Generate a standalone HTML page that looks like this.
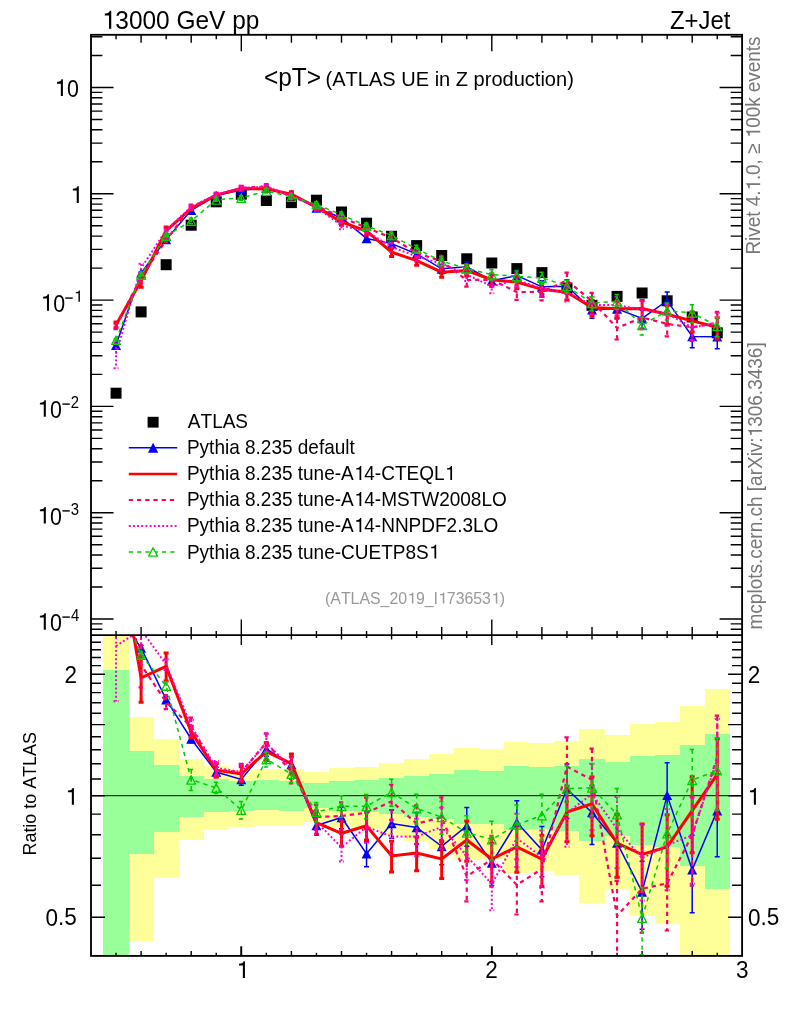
<!DOCTYPE html>
<html><head><meta charset="utf-8"><style>html,body{margin:0;padding:0;background:#fff;overflow:hidden}svg{display:block;will-change:transform}text{font-family:"Liberation Sans",sans-serif;font-kerning:none;font-feature-settings:"kern" 0}</style></head>
<body><svg width="786" height="1024" viewBox="0 0 786 1024" font-family="Liberation Sans, sans-serif">
<defs><clipPath id="cr"><rect x="91.0" y="635.05" width="651.1" height="320.85"/></clipPath>
<clipPath id="ct"><rect x="91.0" y="34.8" width="651.1" height="600.25"/></clipPath></defs>
<rect width="786" height="1024" fill="#fff"/>
<g clip-path="url(#cr)" shape-rendering="crispEdges"><rect x="103.00" y="600.00" width="25.58" height="400.00" fill="#ffff99"/><rect x="128.57" y="716.50" width="25.05" height="224.90" fill="#ffff99"/><rect x="153.62" y="739.20" width="25.05" height="138.80" fill="#ffff99"/><rect x="178.68" y="759.30" width="25.05" height="81.10" fill="#ffff99"/><rect x="203.73" y="766.20" width="25.05" height="63.80" fill="#ffff99"/><rect x="228.78" y="769.50" width="25.05" height="57.70" fill="#ffff99"/><rect x="253.83" y="768.80" width="25.05" height="57.10" fill="#ffff99"/><rect x="278.88" y="769.00" width="25.05" height="57.30" fill="#ffff99"/><rect x="303.93" y="772.10" width="25.05" height="50.30" fill="#ffff99"/><rect x="328.97" y="768.20" width="25.05" height="58.93" fill="#ffff99"/><rect x="354.02" y="766.70" width="25.05" height="62.57" fill="#ffff99"/><rect x="379.08" y="762.90" width="25.05" height="71.98" fill="#ffff99"/><rect x="404.12" y="758.80" width="25.05" height="82.50" fill="#ffff99"/><rect x="429.18" y="754.00" width="25.05" height="95.32" fill="#ffff99"/><rect x="454.22" y="748.00" width="25.05" height="112.24" fill="#ffff99"/><rect x="479.27" y="748.70" width="25.05" height="110.21" fill="#ffff99"/><rect x="504.33" y="741.70" width="25.05" height="131.25" fill="#ffff99"/><rect x="529.38" y="742.80" width="25.05" height="127.83" fill="#ffff99"/><rect x="554.42" y="741.10" width="25.05" height="133.50" fill="#ffff99"/><rect x="579.48" y="729.20" width="25.05" height="173.50" fill="#ffff99"/><rect x="604.53" y="734.60" width="25.05" height="154.10" fill="#ffff99"/><rect x="629.58" y="724.40" width="25.05" height="191.30" fill="#ffff99"/><rect x="654.63" y="722.30" width="25.05" height="201.40" fill="#ffff99"/><rect x="679.67" y="705.80" width="25.05" height="294.20" fill="#ffff99"/><rect x="704.73" y="688.80" width="25.05" height="311.20" fill="#ffff99"/><rect x="103.00" y="670.40" width="25.58" height="329.60" fill="#99ff99"/><rect x="128.57" y="751.10" width="25.05" height="103.10" fill="#99ff99"/><rect x="153.62" y="765.20" width="25.05" height="66.90" fill="#99ff99"/><rect x="178.68" y="776.00" width="25.05" height="41.00" fill="#99ff99"/><rect x="203.73" y="779.20" width="25.05" height="32.80" fill="#99ff99"/><rect x="228.78" y="781.40" width="25.05" height="29.10" fill="#99ff99"/><rect x="253.83" y="780.40" width="25.05" height="29.10" fill="#99ff99"/><rect x="278.88" y="781.40" width="25.05" height="29.10" fill="#99ff99"/><rect x="303.93" y="783.10" width="25.05" height="24.98" fill="#99ff99"/><rect x="328.97" y="780.60" width="25.05" height="30.42" fill="#99ff99"/><rect x="354.02" y="780.10" width="25.05" height="31.53" fill="#99ff99"/><rect x="379.08" y="777.80" width="25.05" height="36.64" fill="#99ff99"/><rect x="404.12" y="776.00" width="25.05" height="40.70" fill="#99ff99"/><rect x="429.18" y="774.00" width="25.05" height="45.27" fill="#99ff99"/><rect x="454.22" y="770.30" width="25.05" height="53.91" fill="#99ff99"/><rect x="479.27" y="770.70" width="25.05" height="52.97" fill="#99ff99"/><rect x="504.33" y="766.00" width="25.05" height="64.28" fill="#99ff99"/><rect x="529.38" y="767.00" width="25.05" height="61.84" fill="#99ff99"/><rect x="554.42" y="766.00" width="25.05" height="65.40" fill="#99ff99"/><rect x="579.48" y="759.00" width="25.05" height="82.10" fill="#99ff99"/><rect x="604.53" y="762.10" width="25.05" height="73.60" fill="#99ff99"/><rect x="629.58" y="756.20" width="25.05" height="89.20" fill="#99ff99"/><rect x="654.63" y="755.20" width="25.05" height="91.30" fill="#99ff99"/><rect x="679.67" y="745.00" width="25.05" height="121.00" fill="#99ff99"/><rect x="704.73" y="734.20" width="25.05" height="155.10" fill="#99ff99"/></g>
<line x1="91.00" y1="795.70" x2="742.10" y2="795.70" stroke="#000" stroke-width="1" />
<path d="M91.00 629.30L102.40 629.30M742.10 629.30L730.70 629.30M91.00 623.86L102.40 623.86M742.10 623.86L730.70 623.86M91.00 619.00L113.50 619.00M742.10 619.00L719.60 619.00M91.00 587.00L102.40 587.00M742.10 587.00L730.70 587.00M91.00 568.28L102.40 568.28M742.10 568.28L730.70 568.28M91.00 555.00L102.40 555.00M742.10 555.00L730.70 555.00M91.00 544.70L102.40 544.70M742.10 544.70L730.70 544.70M91.00 536.28L102.40 536.28M742.10 536.28L730.70 536.28M91.00 529.17L102.40 529.17M742.10 529.17L730.70 529.17M91.00 523.00L102.40 523.00M742.10 523.00L730.70 523.00M91.00 517.56L102.40 517.56M742.10 517.56L730.70 517.56M91.00 512.70L113.50 512.70M742.10 512.70L719.60 512.70M91.00 480.70L102.40 480.70M742.10 480.70L730.70 480.70M91.00 461.98L102.40 461.98M742.10 461.98L730.70 461.98M91.00 448.70L102.40 448.70M742.10 448.70L730.70 448.70M91.00 438.40L102.40 438.40M742.10 438.40L730.70 438.40M91.00 429.98L102.40 429.98M742.10 429.98L730.70 429.98M91.00 422.87L102.40 422.87M742.10 422.87L730.70 422.87M91.00 416.70L102.40 416.70M742.10 416.70L730.70 416.70M91.00 411.26L102.40 411.26M742.10 411.26L730.70 411.26M91.00 406.40L113.50 406.40M742.10 406.40L719.60 406.40M91.00 374.40L102.40 374.40M742.10 374.40L730.70 374.40M91.00 355.68L102.40 355.68M742.10 355.68L730.70 355.68M91.00 342.40L102.40 342.40M742.10 342.40L730.70 342.40M91.00 332.10L102.40 332.10M742.10 332.10L730.70 332.10M91.00 323.68L102.40 323.68M742.10 323.68L730.70 323.68M91.00 316.57L102.40 316.57M742.10 316.57L730.70 316.57M91.00 310.40L102.40 310.40M742.10 310.40L730.70 310.40M91.00 304.96L102.40 304.96M742.10 304.96L730.70 304.96M91.00 300.10L113.50 300.10M742.10 300.10L719.60 300.10M91.00 268.10L102.40 268.10M742.10 268.10L730.70 268.10M91.00 249.38L102.40 249.38M742.10 249.38L730.70 249.38M91.00 236.10L102.40 236.10M742.10 236.10L730.70 236.10M91.00 225.80L102.40 225.80M742.10 225.80L730.70 225.80M91.00 217.38L102.40 217.38M742.10 217.38L730.70 217.38M91.00 210.27L102.40 210.27M742.10 210.27L730.70 210.27M91.00 204.10L102.40 204.10M742.10 204.10L730.70 204.10M91.00 198.66L102.40 198.66M742.10 198.66L730.70 198.66M91.00 193.80L113.50 193.80M742.10 193.80L719.60 193.80M91.00 161.80L102.40 161.80M742.10 161.80L730.70 161.80M91.00 143.08L102.40 143.08M742.10 143.08L730.70 143.08M91.00 129.80L102.40 129.80M742.10 129.80L730.70 129.80M91.00 119.50L102.40 119.50M742.10 119.50L730.70 119.50M91.00 111.08L102.40 111.08M742.10 111.08L730.70 111.08M91.00 103.97L102.40 103.97M742.10 103.97L730.70 103.97M91.00 97.80L102.40 97.80M742.10 97.80L730.70 97.80M91.00 92.36L102.40 92.36M742.10 92.36L730.70 92.36M91.00 87.50L113.50 87.50M742.10 87.50L719.60 87.50M91.00 55.50L102.40 55.50M742.10 55.50L730.70 55.50M91.00 36.78L102.40 36.78M742.10 36.78L730.70 36.78M116.05 34.80L116.05 39.30M116.05 635.05L116.05 631.05M116.05 635.05L116.05 638.05M116.05 955.90L116.05 952.70M141.10 34.80L141.10 42.80M141.10 635.05L141.10 627.05M141.10 635.05L141.10 639.55M141.10 955.90L141.10 951.10M166.15 34.80L166.15 39.30M166.15 635.05L166.15 631.05M166.15 635.05L166.15 638.05M166.15 955.90L166.15 952.70M191.20 34.80L191.20 42.80M191.20 635.05L191.20 627.05M191.20 635.05L191.20 639.55M191.20 955.90L191.20 951.10M216.25 34.80L216.25 39.30M216.25 635.05L216.25 631.05M216.25 635.05L216.25 638.05M216.25 955.90L216.25 952.70M241.30 34.80L241.30 51.30M241.30 635.05L241.30 619.55M241.30 635.05L241.30 645.05M241.30 955.90L241.30 946.40M266.35 34.80L266.35 39.30M266.35 635.05L266.35 631.05M266.35 635.05L266.35 638.05M266.35 955.90L266.35 952.70M291.40 34.80L291.40 42.80M291.40 635.05L291.40 627.05M291.40 635.05L291.40 639.55M291.40 955.90L291.40 951.10M316.45 34.80L316.45 39.30M316.45 635.05L316.45 631.05M316.45 635.05L316.45 638.05M316.45 955.90L316.45 952.70M341.50 34.80L341.50 42.80M341.50 635.05L341.50 627.05M341.50 635.05L341.50 639.55M341.50 955.90L341.50 951.10M366.55 34.80L366.55 39.30M366.55 635.05L366.55 631.05M366.55 635.05L366.55 638.05M366.55 955.90L366.55 952.70M391.60 34.80L391.60 42.80M391.60 635.05L391.60 627.05M391.60 635.05L391.60 639.55M391.60 955.90L391.60 951.10M416.65 34.80L416.65 39.30M416.65 635.05L416.65 631.05M416.65 635.05L416.65 638.05M416.65 955.90L416.65 952.70M441.70 34.80L441.70 42.80M441.70 635.05L441.70 627.05M441.70 635.05L441.70 639.55M441.70 955.90L441.70 951.10M466.75 34.80L466.75 39.30M466.75 635.05L466.75 631.05M466.75 635.05L466.75 638.05M466.75 955.90L466.75 952.70M491.80 34.80L491.80 51.30M491.80 635.05L491.80 619.55M491.80 635.05L491.80 645.05M491.80 955.90L491.80 946.40M516.85 34.80L516.85 39.30M516.85 635.05L516.85 631.05M516.85 635.05L516.85 638.05M516.85 955.90L516.85 952.70M541.90 34.80L541.90 42.80M541.90 635.05L541.90 627.05M541.90 635.05L541.90 639.55M541.90 955.90L541.90 951.10M566.95 34.80L566.95 39.30M566.95 635.05L566.95 631.05M566.95 635.05L566.95 638.05M566.95 955.90L566.95 952.70M592.00 34.80L592.00 42.80M592.00 635.05L592.00 627.05M592.00 635.05L592.00 639.55M592.00 955.90L592.00 951.10M617.05 34.80L617.05 39.30M617.05 635.05L617.05 631.05M617.05 635.05L617.05 638.05M617.05 955.90L617.05 952.70M642.10 34.80L642.10 42.80M642.10 635.05L642.10 627.05M642.10 635.05L642.10 639.55M642.10 955.90L642.10 951.10M667.15 34.80L667.15 39.30M667.15 635.05L667.15 631.05M667.15 635.05L667.15 638.05M667.15 955.90L667.15 952.70M692.20 34.80L692.20 42.80M692.20 635.05L692.20 627.05M692.20 635.05L692.20 639.55M692.20 955.90L692.20 951.10M717.25 34.80L717.25 39.30M717.25 635.05L717.25 631.05M717.25 635.05L717.25 638.05M717.25 955.90L717.25 952.70M91.00 917.20L105.00 917.20M742.10 917.20L728.10 917.20M91.00 885.24L101.00 885.24M742.10 885.24L732.10 885.24M91.00 858.22L101.00 858.22M742.10 858.22L732.10 858.22M91.00 834.81L101.00 834.81M742.10 834.81L732.10 834.81M91.00 814.17L101.00 814.17M742.10 814.17L732.10 814.17M91.00 795.70L105.00 795.70M742.10 795.70L728.10 795.70M91.00 778.99L101.00 778.99M742.10 778.99L732.10 778.99M91.00 763.74L101.00 763.74M742.10 763.74L732.10 763.74M91.00 749.71L101.00 749.71M742.10 749.71L732.10 749.71M91.00 736.72L101.00 736.72M742.10 736.72L732.10 736.72M91.00 724.63L105.00 724.63M742.10 724.63L728.10 724.63M91.00 713.32L101.00 713.32M742.10 713.32L732.10 713.32M91.00 702.69L101.00 702.69M742.10 702.69L732.10 702.69M91.00 692.67L101.00 692.67M742.10 692.67L732.10 692.67M91.00 683.20L101.00 683.20M742.10 683.20L732.10 683.20M91.00 674.20L105.00 674.20M742.10 674.20L728.10 674.20M91.00 665.65L101.00 665.65M742.10 665.65L732.10 665.65M91.00 657.50L101.00 657.50M742.10 657.50L732.10 657.50M91.00 649.71L101.00 649.71M742.10 649.71L732.10 649.71M91.00 642.25L101.00 642.25M742.10 642.25L732.10 642.25" stroke="#000" stroke-width="1.4" fill="none"/>
<path d="M241.30 955.90L241.30 946.40M491.80 955.90L491.80 946.40" stroke="#000" stroke-width="1.8" fill="none"/>
<g clip-path="url(#ct)"><rect x="110.55" y="387.70" width="11" height="11" fill="#000"/><rect x="135.60" y="306.40" width="11" height="11" fill="#000"/><rect x="160.65" y="259.20" width="11" height="11" fill="#000"/><rect x="185.70" y="219.70" width="11" height="11" fill="#000"/><rect x="210.75" y="196.30" width="11" height="11" fill="#000"/><rect x="235.80" y="188.70" width="11" height="11" fill="#000"/><rect x="260.85" y="195.00" width="11" height="11" fill="#000"/><rect x="285.90" y="197.10" width="11" height="11" fill="#000"/><rect x="310.95" y="194.70" width="11" height="11" fill="#000"/><rect x="336.00" y="206.50" width="11" height="11" fill="#000"/><rect x="361.05" y="217.70" width="11" height="11" fill="#000"/><rect x="386.10" y="230.80" width="11" height="11" fill="#000"/><rect x="411.15" y="240.10" width="11" height="11" fill="#000"/><rect x="436.20" y="250.00" width="11" height="11" fill="#000"/><rect x="461.25" y="253.30" width="11" height="11" fill="#000"/><rect x="486.30" y="257.50" width="11" height="11" fill="#000"/><rect x="511.35" y="263.10" width="11" height="11" fill="#000"/><rect x="536.40" y="267.10" width="11" height="11" fill="#000"/><rect x="561.45" y="282.50" width="11" height="11" fill="#000"/><rect x="586.50" y="299.80" width="11" height="11" fill="#000"/><rect x="611.55" y="290.90" width="11" height="11" fill="#000"/><rect x="636.60" y="287.50" width="11" height="11" fill="#000"/><rect x="661.65" y="295.30" width="11" height="11" fill="#000"/><rect x="686.70" y="311.50" width="11" height="11" fill="#000"/><rect x="711.75" y="327.30" width="11" height="11" fill="#000"/><path d="M116.05 345.10L141.10 273.00L166.15 239.39L191.20 210.27L216.25 195.56L241.30 189.93L266.35 188.23L291.40 194.36L316.45 208.05L341.50 217.74L366.55 238.50L391.60 243.62L416.65 253.98L441.70 268.85L466.75 266.73L491.80 280.70L516.85 275.63L541.90 286.85L566.95 286.29L592.00 309.72L617.05 308.86L642.10 318.34L667.15 300.69L692.20 336.52L717.25 336.72" fill="none" stroke="#0000ff" stroke-width="1.5" stroke-linejoin="miter"/><path d="M116.05 344.55L116.05 345.66M113.55 344.55L118.55 344.55M113.55 345.66L118.55 345.66M141.10 272.36L141.10 273.64M138.60 272.36L143.60 272.36M138.60 273.64L143.60 273.64M166.15 238.60L166.15 240.19M163.65 238.60L168.65 238.60M163.65 240.19L168.65 240.19M191.20 209.28L191.20 211.28M188.70 209.28L193.70 209.28M188.70 211.28L193.70 211.28M216.25 194.33L216.25 196.82M213.75 194.33L218.75 194.33M213.75 196.82L218.75 196.82M241.30 188.44L241.30 191.48M238.80 188.44L243.80 188.44M238.80 191.48L243.80 191.48M266.35 186.44L266.35 190.08M263.85 186.44L268.85 186.44M263.85 190.08L268.85 190.08M291.40 192.26L291.40 196.56M288.90 192.26L293.90 192.26M288.90 196.56L293.90 196.56M316.45 205.61L316.45 210.62M313.95 205.61L318.95 205.61M313.95 210.62L318.95 210.62M341.50 214.95L341.50 220.71M339.00 214.95L344.00 214.95M339.00 220.71L344.00 220.71M366.55 235.34L366.55 241.90M364.05 235.34L369.05 235.34M364.05 241.90L369.05 241.90M391.60 240.07L391.60 247.47M389.10 240.07L394.10 240.07M389.10 247.47L394.10 247.47M416.65 250.02L416.65 258.31M414.15 250.02L419.15 250.02M414.15 258.31L419.15 258.31M441.70 264.48L441.70 273.69M439.20 264.48L444.20 264.48M439.20 273.69L444.20 273.69M466.75 261.92L466.75 272.09M464.25 261.92L469.25 261.92M464.25 272.09L469.25 272.09M491.80 275.45L491.80 286.62M489.30 275.45L494.30 275.45M489.30 286.62L494.30 286.62M516.85 269.93L516.85 282.14M514.35 269.93L519.35 269.93M514.35 282.14L519.35 282.14M541.90 280.69L541.90 293.96M539.40 280.69L544.40 280.69M539.40 293.96L544.40 293.96M566.95 279.66L566.95 294.03M564.45 279.66L569.45 279.66M564.45 294.03L569.45 294.03M592.00 302.61L592.00 318.13M589.50 302.61L594.50 302.61M589.50 318.13L594.50 318.13M617.05 301.26L617.05 317.96M614.55 301.26L619.55 301.26M614.55 317.96L619.55 317.96M642.10 310.25L642.10 328.15M639.60 310.25L644.60 310.25M639.60 328.15L644.60 328.15M667.15 292.10L667.15 311.26M664.65 292.10L669.65 292.10M664.65 311.26L669.65 311.26M692.20 327.42L692.20 347.86M689.70 327.42L694.70 327.42M689.70 347.86L694.70 347.86M717.25 327.12L717.25 348.87M714.75 327.12L719.75 327.12M714.75 348.87L719.75 348.87" fill="none" stroke="#0000ff" stroke-width="1.5"/><path d="M111.05 349.90L121.05 349.90L116.05 340.30Z" fill="#0000ff" stroke="none" stroke-width="0" stroke-linejoin="round"/><path d="M136.10 277.80L146.10 277.80L141.10 268.20Z" fill="#0000ff" stroke="none" stroke-width="0" stroke-linejoin="round"/><path d="M161.15 244.19L171.15 244.19L166.15 234.59Z" fill="#0000ff" stroke="none" stroke-width="0" stroke-linejoin="round"/><path d="M186.20 215.07L196.20 215.07L191.20 205.47Z" fill="#0000ff" stroke="none" stroke-width="0" stroke-linejoin="round"/><path d="M211.25 200.36L221.25 200.36L216.25 190.76Z" fill="#0000ff" stroke="none" stroke-width="0" stroke-linejoin="round"/><path d="M236.30 194.73L246.30 194.73L241.30 185.13Z" fill="#0000ff" stroke="none" stroke-width="0" stroke-linejoin="round"/><path d="M261.35 193.03L271.35 193.03L266.35 183.43Z" fill="#0000ff" stroke="none" stroke-width="0" stroke-linejoin="round"/><path d="M286.40 199.16L296.40 199.16L291.40 189.56Z" fill="#0000ff" stroke="none" stroke-width="0" stroke-linejoin="round"/><path d="M311.45 212.85L321.45 212.85L316.45 203.25Z" fill="#0000ff" stroke="none" stroke-width="0" stroke-linejoin="round"/><path d="M336.50 222.54L346.50 222.54L341.50 212.94Z" fill="#0000ff" stroke="none" stroke-width="0" stroke-linejoin="round"/><path d="M361.55 243.30L371.55 243.30L366.55 233.70Z" fill="#0000ff" stroke="none" stroke-width="0" stroke-linejoin="round"/><path d="M386.60 248.42L396.60 248.42L391.60 238.82Z" fill="#0000ff" stroke="none" stroke-width="0" stroke-linejoin="round"/><path d="M411.65 258.78L421.65 258.78L416.65 249.18Z" fill="#0000ff" stroke="none" stroke-width="0" stroke-linejoin="round"/><path d="M436.70 273.65L446.70 273.65L441.70 264.05Z" fill="#0000ff" stroke="none" stroke-width="0" stroke-linejoin="round"/><path d="M461.75 271.53L471.75 271.53L466.75 261.93Z" fill="#0000ff" stroke="none" stroke-width="0" stroke-linejoin="round"/><path d="M486.80 285.50L496.80 285.50L491.80 275.90Z" fill="#0000ff" stroke="none" stroke-width="0" stroke-linejoin="round"/><path d="M511.85 280.43L521.85 280.43L516.85 270.83Z" fill="#0000ff" stroke="none" stroke-width="0" stroke-linejoin="round"/><path d="M536.90 291.65L546.90 291.65L541.90 282.05Z" fill="#0000ff" stroke="none" stroke-width="0" stroke-linejoin="round"/><path d="M561.95 291.09L571.95 291.09L566.95 281.49Z" fill="#0000ff" stroke="none" stroke-width="0" stroke-linejoin="round"/><path d="M587.00 314.52L597.00 314.52L592.00 304.92Z" fill="#0000ff" stroke="none" stroke-width="0" stroke-linejoin="round"/><path d="M612.05 313.66L622.05 313.66L617.05 304.06Z" fill="#0000ff" stroke="none" stroke-width="0" stroke-linejoin="round"/><path d="M637.10 323.14L647.10 323.14L642.10 313.54Z" fill="#0000ff" stroke="none" stroke-width="0" stroke-linejoin="round"/><path d="M662.15 305.49L672.15 305.49L667.15 295.89Z" fill="#0000ff" stroke="none" stroke-width="0" stroke-linejoin="round"/><path d="M687.20 341.32L697.20 341.32L692.20 331.72Z" fill="#0000ff" stroke="none" stroke-width="0" stroke-linejoin="round"/><path d="M712.25 341.52L722.25 341.52L717.25 331.92Z" fill="#0000ff" stroke="none" stroke-width="0" stroke-linejoin="round"/><path d="M116.05 324.80L141.10 280.85L166.15 230.65L191.20 208.42L216.25 195.08L241.30 188.48L266.35 188.88L291.40 194.17L316.45 207.28L341.50 221.90L366.55 231.10L391.60 252.18L416.65 260.69L441.70 272.17L466.75 270.47L491.80 279.67L516.85 282.09L541.90 289.27L566.95 292.32L592.00 307.46L617.05 308.86L642.10 308.49L667.15 314.29L692.20 320.92L717.25 327.19" fill="none" stroke="#ff0000" stroke-width="3" stroke-linejoin="miter"/><path d="M116.05 322.11L116.05 327.66M113.55 322.11L118.55 322.11M113.55 327.66L118.55 327.66M141.10 275.21L141.10 287.28M138.60 275.21L143.60 275.21M138.60 287.28L143.60 287.28M166.15 227.09L166.15 234.49M163.65 227.09L168.65 227.09M163.65 234.49L168.65 234.49M191.20 206.88L191.20 210.01M188.70 206.88L193.70 206.88M188.70 210.01L193.70 210.01M216.25 193.33L216.25 196.90M213.75 193.33L218.75 193.33M213.75 196.90L218.75 196.90M241.30 186.49L241.30 190.57M238.80 186.49L243.80 186.49M238.80 190.57L243.80 190.57M266.35 186.63L266.35 191.26M263.85 186.63L268.85 186.63M263.85 191.26L268.85 191.26M291.40 191.63L291.40 196.86M288.90 191.63L293.90 191.63M288.90 196.86L293.90 196.86M316.45 204.44L316.45 210.32M313.95 204.44L318.95 204.44M313.95 210.32L318.95 210.32M341.50 218.73L341.50 225.31M339.00 218.73L344.00 218.73M339.00 225.31L344.00 225.31M366.55 227.59L366.55 234.90M364.05 227.59L369.05 227.59M364.05 234.90L369.05 234.90M391.60 248.32L391.60 256.40M389.10 248.32L394.10 248.32M389.10 256.40L394.10 256.40M416.65 256.46L416.65 265.35M414.15 256.46L419.15 256.46M414.15 265.35L419.15 265.35M441.70 267.56L441.70 277.30M439.20 267.56L444.20 267.56M439.20 277.30L444.20 277.30M466.75 265.47L466.75 276.08M464.25 265.47L469.25 265.47M464.25 276.08L469.25 276.08M491.80 274.27L491.80 285.79M489.30 274.27L494.30 274.27M489.30 285.79L494.30 285.79M516.85 276.27L516.85 288.74M514.35 276.27L519.35 276.27M514.35 288.74L519.35 288.74M541.90 283.03L541.90 296.49M539.40 283.03L544.40 283.03M539.40 296.49L544.40 296.49M566.95 285.65L566.95 300.12M564.45 285.65L569.45 285.65M564.45 300.12L569.45 300.12M592.00 300.35L592.00 315.86M589.50 300.35L594.50 300.35M589.50 315.86L594.50 315.86M617.05 301.31L617.05 317.89M614.55 301.31L619.55 301.31M614.55 317.89L619.55 317.89M642.10 300.48L642.10 318.18M639.60 300.48L644.60 300.48M639.60 318.18L644.60 318.18M667.15 305.82L667.15 324.66M664.65 305.82L669.65 305.82M664.65 324.66L669.65 324.66M692.20 312.00L692.20 332.00M689.70 312.00L694.70 312.00M689.70 332.00L694.70 332.00M717.25 317.79L717.25 339.00M714.75 317.79L719.75 317.79M714.75 339.00L719.75 339.00" fill="none" stroke="#ff0000" stroke-width="3"/><path d="M116.05 326.30L141.10 277.48L166.15 240.02L191.20 207.11L216.25 195.03L241.30 187.96L266.35 186.54L291.40 196.36L316.45 205.81L341.50 217.35L366.55 227.68L391.60 237.80L416.65 252.95L441.70 261.22L466.75 280.08L491.80 279.75L516.85 292.07L541.90 291.91L566.95 280.34L592.00 301.11L617.05 328.01L642.10 317.49L667.15 323.87L692.20 327.35L717.25 322.61" fill="none" stroke="#ff0066" stroke-width="2.2" stroke-dasharray="4.3 3.9" stroke-linejoin="miter"/><path d="M116.05 323.61L116.05 329.16M113.55 323.61L118.55 323.61M113.55 329.16L118.55 329.16M141.10 272.24L141.10 283.38M138.60 272.24L143.60 272.24M138.60 283.38L143.60 283.38M166.15 238.21L166.15 241.91M163.65 238.21L168.65 238.21M163.65 241.91L168.65 241.91M191.20 204.63L191.20 209.72M188.70 204.63L193.70 204.63M188.70 209.72L193.70 209.72M216.25 193.16L216.25 196.98M213.75 193.16L218.75 193.16M213.75 196.98L218.75 196.98M241.30 185.80L241.30 190.22M238.80 185.80L243.80 185.80M238.80 190.22L243.80 190.22M266.35 184.07L266.35 189.16M263.85 184.07L268.85 184.07M263.85 189.16L268.85 189.16M291.40 193.54L291.40 199.36M288.90 193.54L293.90 193.54M288.90 199.36L293.90 199.36M316.45 202.63L316.45 209.22M313.95 202.63L318.95 202.63M313.95 209.22L318.95 209.22M341.50 213.78L341.50 221.21M339.00 213.78L344.00 213.78M339.00 221.21L344.00 221.21M366.55 223.71L366.55 232.02M364.05 223.71L369.05 223.71M364.05 232.02L369.05 232.02M391.60 233.42L391.60 242.65M389.10 233.42L394.10 233.42M389.10 242.65L394.10 242.65M416.65 248.13L416.65 258.33M414.15 248.13L419.15 248.13M414.15 258.33L419.15 258.33M441.70 255.95L441.70 267.16M439.20 255.95L444.20 255.95M439.20 267.16L444.20 267.16M466.75 274.35L466.75 286.63M464.25 274.35L469.25 274.35M464.25 286.63L469.25 286.63M491.80 273.55L491.80 286.92M489.30 273.55L494.30 273.55M489.30 286.92L494.30 286.92M516.85 285.38L516.85 299.89M514.35 285.38L519.35 285.38M514.35 299.89L519.35 299.89M541.90 284.72L541.90 300.42M539.40 284.72L544.40 284.72M539.40 300.42L544.40 300.42M566.95 272.65L566.95 289.57M564.45 272.65L569.45 272.65M564.45 289.57L569.45 289.57M592.00 292.91L592.00 311.09M589.50 292.91L594.50 292.91M589.50 311.09L594.50 311.09M617.05 318.83L617.05 339.48M614.55 318.83L619.55 318.83M614.55 339.48L619.55 339.48M642.10 308.24L642.10 329.08M639.60 308.24L644.60 308.24M639.60 329.08L644.60 329.08M667.15 314.09L667.15 336.31M664.65 314.09L669.65 314.09M664.65 336.31L669.65 336.31M692.20 317.02L692.20 340.67M689.70 317.02L694.70 317.02M689.70 340.67L694.70 340.67M717.25 311.73L717.25 336.86M714.75 311.73L719.75 311.73M714.75 336.86L719.75 336.86" fill="none" stroke="#ff0066" stroke-width="2.2" stroke-dasharray="4.3 3.9"/><path d="M116.05 353.77L141.10 268.20L166.15 230.14L191.20 206.84L216.25 194.50L241.30 187.96L266.35 186.62L291.40 195.30L316.45 207.13L341.50 225.59L366.55 231.39L391.60 247.05L416.65 256.35L441.70 263.72L466.75 274.68L491.80 286.28L516.85 279.82L541.90 288.75L566.95 292.56L592.00 304.85L617.05 305.17L642.10 309.49L667.15 313.78L692.20 327.46L717.25 323.13" fill="none" stroke="#ff00cc" stroke-width="2" stroke-dasharray="1.9 2.27" stroke-linejoin="miter"/><path d="M116.05 342.74L116.05 368.30M113.55 342.74L118.55 342.74M113.55 368.30L118.55 368.30M141.10 263.80L141.10 273.06M138.60 263.80L143.60 263.80M138.60 273.06L143.60 273.06M166.15 228.76L166.15 231.58M163.65 228.76L168.65 228.76M163.65 231.58L168.65 231.58M191.20 205.25L191.20 208.50M188.70 205.25L193.70 205.25M188.70 208.50L193.70 208.50M216.25 192.66L216.25 196.42M213.75 192.66L218.75 192.66M213.75 196.42L218.75 196.42M241.30 185.84L241.30 190.18M238.80 185.84L243.80 185.84M238.80 190.18L243.80 190.18M266.35 184.20L266.35 189.17M263.85 184.20L268.85 184.20M263.85 189.17L268.85 189.17M291.40 192.56L291.40 198.23M288.90 192.56L293.90 192.56M288.90 198.23L293.90 198.23M316.45 204.03L316.45 210.45M313.95 204.03L318.95 204.03M313.95 210.45L318.95 210.45M341.50 222.13L341.50 229.34M339.00 222.13L344.00 222.13M339.00 229.34L344.00 229.34M366.55 227.54L366.55 235.59M364.05 227.54L369.05 227.54M364.05 235.59L369.05 235.59M391.60 242.79L391.60 251.73M389.10 242.79L394.10 242.79M389.10 251.73L394.10 251.73M416.65 251.67L416.65 261.54M414.15 251.67L419.15 251.67M414.15 261.54L419.15 261.54M441.70 258.61L441.70 269.46M439.20 258.61L444.20 258.61M439.20 269.46L444.20 269.46M466.75 269.13L466.75 280.99M464.25 269.13L469.25 269.13M464.25 280.99L469.25 280.99M491.80 280.28L491.80 293.19M489.30 280.28L494.30 280.28M489.30 293.19L494.30 293.19M516.85 273.35L516.85 287.35M514.35 273.35L519.35 273.35M514.35 287.35L519.35 287.35M541.90 281.80L541.90 296.93M539.40 281.80L544.40 281.80M539.40 296.93L544.40 296.93M566.95 285.12L566.95 301.42M564.45 285.12L569.45 285.12M564.45 301.42L569.45 301.42M592.00 296.92L592.00 314.43M589.50 296.92L594.50 296.92M589.50 314.43L594.50 314.43M617.05 296.74L617.05 315.49M614.55 296.74L619.55 296.74M614.55 315.49L619.55 315.49M642.10 300.55L642.10 320.59M639.60 300.55L644.60 300.55M639.60 320.59L644.60 320.59M667.15 304.33L667.15 325.69M664.65 304.33L669.65 304.33M664.65 325.69L669.65 325.69M692.20 317.48L692.20 340.20M689.70 317.48L694.70 317.48M689.70 340.20L694.70 340.20M717.25 312.63L717.25 336.76M714.75 312.63L719.75 312.63M714.75 336.76L719.75 336.76" fill="none" stroke="#ff00cc" stroke-width="2" stroke-dasharray="1.9 2.27"/><path d="M116.05 340.00L141.10 274.82L166.15 235.78L191.20 220.99L216.25 199.72L241.30 197.97L266.35 190.91L291.40 196.86L316.45 204.49L341.50 214.77L366.55 225.97L391.60 235.38L416.65 248.97L441.70 261.14L466.75 268.55L491.80 274.54L516.85 276.24L541.90 277.81L566.95 286.16L592.00 303.19L617.05 301.33L642.10 325.18L667.15 310.76L692.20 312.89L717.25 326.16" fill="none" stroke="#00cc00" stroke-width="1.5" stroke-dasharray="4.3 4.0" stroke-linejoin="miter"/><path d="M116.05 339.09L116.05 340.93M113.55 339.09L118.55 339.09M113.55 340.93L118.55 340.93M141.10 273.83L141.10 275.82M138.60 273.83L143.60 273.83M138.60 275.82L143.60 275.82M166.15 234.67L166.15 236.92M163.65 234.67L168.65 234.67M163.65 236.92L168.65 236.92M191.20 218.30L191.20 223.84M188.70 218.30L193.70 218.30M188.70 223.84L193.70 223.84M216.25 198.25L216.25 201.24M213.75 198.25L218.75 198.25M213.75 201.24L218.75 201.24M241.30 195.71L241.30 200.33M238.80 195.71L243.80 195.71M238.80 200.33L243.80 200.33M266.35 188.98L266.35 192.93M263.85 188.98L268.85 188.98M263.85 192.93L268.85 192.93M291.40 194.66L291.40 199.16M288.90 194.66L293.90 194.66M288.90 199.16L293.90 199.16M316.45 202.02L316.45 207.11M313.95 202.02L318.95 202.02M313.95 207.11L318.95 207.11M341.50 212.00L341.50 217.71M339.00 212.00L344.00 212.00M339.00 217.71L344.00 217.71M366.55 222.89L366.55 229.27M364.05 222.89L369.05 222.89M364.05 229.27L369.05 229.27M391.60 231.97L391.60 239.05M389.10 231.97L394.10 231.97M389.10 239.05L394.10 239.05M416.65 245.23L416.65 253.04M414.15 245.23L419.15 245.23M414.15 253.04L419.15 253.04M441.70 257.05L441.70 265.62M439.20 257.05L444.20 257.05M439.20 265.62L444.20 265.62M466.75 264.10L466.75 273.47M464.25 264.10L469.25 264.10M464.25 273.47L469.25 273.47M491.80 269.72L491.80 279.92M489.30 269.72L494.30 269.72M489.30 279.92L494.30 279.92M516.85 271.04L516.85 282.10M514.35 271.04L519.35 271.04M514.35 282.10L519.35 282.10M541.90 272.23L541.90 284.17M539.40 272.23L544.40 272.23M539.40 284.17L544.40 284.17M566.95 280.17L566.95 293.03M564.45 280.17L569.45 280.17M564.45 293.03L569.45 293.03M592.00 296.81L592.00 310.61M589.50 296.81L594.50 296.81M589.50 310.61L594.50 310.61M617.05 294.53L617.05 309.30M614.55 294.53L619.55 294.53M614.55 309.30L619.55 309.30M642.10 317.15L642.10 334.91M639.60 317.15L644.60 317.15M639.60 334.91L644.60 334.91M667.15 303.12L667.15 319.91M664.65 303.12L669.65 303.12M664.65 319.91L669.65 319.91M692.20 304.83L692.20 322.67M689.70 304.83L694.70 304.83M689.70 322.67L694.70 322.67M717.25 317.66L717.25 336.59M714.75 317.66L719.75 317.66M714.75 336.59L719.75 336.59" fill="none" stroke="#00cc00" stroke-width="1.5" stroke-dasharray="4.3 4.0"/><path d="M111.65 344.45L120.45 344.45L116.05 336.05Z" fill="none" stroke="#00cc00" stroke-width="1.3" stroke-linejoin="round"/><path d="M136.70 279.27L145.50 279.27L141.10 270.87Z" fill="none" stroke="#00cc00" stroke-width="1.3" stroke-linejoin="round"/><path d="M161.75 240.23L170.55 240.23L166.15 231.83Z" fill="none" stroke="#00cc00" stroke-width="1.3" stroke-linejoin="round"/><path d="M186.80 225.44L195.60 225.44L191.20 217.04Z" fill="none" stroke="#00cc00" stroke-width="1.3" stroke-linejoin="round"/><path d="M211.85 204.17L220.65 204.17L216.25 195.77Z" fill="none" stroke="#00cc00" stroke-width="1.3" stroke-linejoin="round"/><path d="M236.90 202.42L245.70 202.42L241.30 194.02Z" fill="none" stroke="#00cc00" stroke-width="1.3" stroke-linejoin="round"/><path d="M261.95 195.36L270.75 195.36L266.35 186.96Z" fill="none" stroke="#00cc00" stroke-width="1.3" stroke-linejoin="round"/><path d="M287.00 201.31L295.80 201.31L291.40 192.91Z" fill="none" stroke="#00cc00" stroke-width="1.3" stroke-linejoin="round"/><path d="M312.05 208.94L320.85 208.94L316.45 200.54Z" fill="none" stroke="#00cc00" stroke-width="1.3" stroke-linejoin="round"/><path d="M337.10 219.22L345.90 219.22L341.50 210.82Z" fill="none" stroke="#00cc00" stroke-width="1.3" stroke-linejoin="round"/><path d="M362.15 230.42L370.95 230.42L366.55 222.02Z" fill="none" stroke="#00cc00" stroke-width="1.3" stroke-linejoin="round"/><path d="M387.20 239.83L396.00 239.83L391.60 231.43Z" fill="none" stroke="#00cc00" stroke-width="1.3" stroke-linejoin="round"/><path d="M412.25 253.42L421.05 253.42L416.65 245.02Z" fill="none" stroke="#00cc00" stroke-width="1.3" stroke-linejoin="round"/><path d="M437.30 265.59L446.10 265.59L441.70 257.19Z" fill="none" stroke="#00cc00" stroke-width="1.3" stroke-linejoin="round"/><path d="M462.35 273.00L471.15 273.00L466.75 264.60Z" fill="none" stroke="#00cc00" stroke-width="1.3" stroke-linejoin="round"/><path d="M487.40 278.99L496.20 278.99L491.80 270.59Z" fill="none" stroke="#00cc00" stroke-width="1.3" stroke-linejoin="round"/><path d="M512.45 280.69L521.25 280.69L516.85 272.29Z" fill="none" stroke="#00cc00" stroke-width="1.3" stroke-linejoin="round"/><path d="M537.50 282.26L546.30 282.26L541.90 273.86Z" fill="none" stroke="#00cc00" stroke-width="1.3" stroke-linejoin="round"/><path d="M562.55 290.61L571.35 290.61L566.95 282.21Z" fill="none" stroke="#00cc00" stroke-width="1.3" stroke-linejoin="round"/><path d="M587.60 307.64L596.40 307.64L592.00 299.24Z" fill="none" stroke="#00cc00" stroke-width="1.3" stroke-linejoin="round"/><path d="M612.65 305.78L621.45 305.78L617.05 297.38Z" fill="none" stroke="#00cc00" stroke-width="1.3" stroke-linejoin="round"/><path d="M637.70 329.63L646.50 329.63L642.10 321.23Z" fill="none" stroke="#00cc00" stroke-width="1.3" stroke-linejoin="round"/><path d="M662.75 315.21L671.55 315.21L667.15 306.81Z" fill="none" stroke="#00cc00" stroke-width="1.3" stroke-linejoin="round"/><path d="M687.80 317.34L696.60 317.34L692.20 308.94Z" fill="none" stroke="#00cc00" stroke-width="1.3" stroke-linejoin="round"/><path d="M712.85 330.61L721.65 330.61L717.25 322.21Z" fill="none" stroke="#00cc00" stroke-width="1.3" stroke-linejoin="round"/></g>
<g clip-path="url(#cr)"><path d="M116.05 613.07L141.10 648.00L166.15 699.60L191.20 739.00L216.25 772.00L241.30 779.50L266.35 749.10L291.40 764.40L316.45 825.50L341.50 817.50L366.55 853.80L391.60 823.50L416.65 827.50L441.70 846.40L466.75 825.80L491.80 862.90L516.85 822.40L541.90 849.80L566.95 789.20L592.00 812.50L617.05 843.00L642.10 891.90L667.15 795.30L692.20 869.80L717.25 810.60" fill="none" stroke="#0000ff" stroke-width="1.5" stroke-linejoin="miter"/><path d="M116.05 610.98L116.05 615.19M113.55 610.98L118.55 610.98M113.55 615.19L118.55 615.19M141.10 645.59L141.10 650.45M138.60 645.59L143.60 645.59M138.60 650.45L143.60 650.45M166.15 696.60L166.15 702.65M163.65 696.60L168.65 696.60M163.65 702.65L168.65 702.65M191.20 735.24L191.20 742.84M188.70 735.24L193.70 735.24M188.70 742.84L193.70 742.84M216.25 767.34L216.25 776.78M213.75 767.34L218.75 767.34M213.75 776.78L218.75 776.78M241.30 773.83L241.30 785.36M238.80 773.83L243.80 773.83M238.80 785.36L243.80 785.36M266.35 742.32L266.35 756.15M263.85 742.32L268.85 742.32M263.85 756.15L268.85 756.15M291.40 756.42L291.40 772.76M288.90 756.42L293.90 756.42M288.90 772.76L293.90 772.76M316.45 816.25L316.45 835.27M313.95 816.25L318.95 816.25M313.95 835.27L318.95 835.27M341.50 806.89L341.50 828.79M339.00 806.89L344.00 806.89M339.00 828.79L344.00 828.79M366.55 841.78L366.55 866.71M364.05 841.78L369.05 841.78M364.05 866.71L369.05 866.71M391.60 810.00L391.60 838.13M389.10 810.00L394.10 810.00M389.10 838.13L394.10 838.13M416.65 812.47L416.65 843.95M414.15 812.47L419.15 812.47M414.15 843.95L419.15 843.95M441.70 829.78L441.70 864.76M439.20 829.78L444.20 829.78M439.20 864.76L444.20 864.76M466.75 807.55L466.75 846.17M464.25 807.55L469.25 807.55M464.25 846.17L469.25 846.17M491.80 842.97L491.80 885.38M489.30 842.97L494.30 842.97M489.30 885.38L494.30 885.38M516.85 800.76L516.85 847.09M514.35 800.76L519.35 800.76M514.35 847.09L519.35 847.09M541.90 826.41L541.90 876.80M539.40 826.41L544.40 826.41M539.40 876.80L544.40 876.80M566.95 764.02L566.95 818.61M564.45 764.02L569.45 764.02M564.45 818.61L569.45 818.61M592.00 785.50L592.00 844.43M589.50 785.50L594.50 785.50M589.50 844.43L594.50 844.43M617.05 814.16L617.05 877.54M614.55 814.16L619.55 814.16M614.55 877.54L619.55 877.54M642.10 861.18L642.10 929.17M639.60 861.18L644.60 861.18M639.60 929.17L644.60 929.17M667.15 762.68L667.15 835.41M664.65 762.68L669.65 762.68M664.65 835.41L669.65 835.41M692.20 835.26L692.20 912.86M689.70 835.26L694.70 835.26M689.70 912.86L694.70 912.86M717.25 774.12L717.25 856.72M714.75 774.12L719.75 774.12M714.75 856.72L719.75 856.72" fill="none" stroke="#0000ff" stroke-width="1.5"/><path d="M111.05 617.87L121.05 617.87L116.05 608.27Z" fill="#0000ff" stroke="none" stroke-width="0" stroke-linejoin="round"/><path d="M136.10 652.80L146.10 652.80L141.10 643.20Z" fill="#0000ff" stroke="none" stroke-width="0" stroke-linejoin="round"/><path d="M161.15 704.40L171.15 704.40L166.15 694.80Z" fill="#0000ff" stroke="none" stroke-width="0" stroke-linejoin="round"/><path d="M186.20 743.80L196.20 743.80L191.20 734.20Z" fill="#0000ff" stroke="none" stroke-width="0" stroke-linejoin="round"/><path d="M211.25 776.80L221.25 776.80L216.25 767.20Z" fill="#0000ff" stroke="none" stroke-width="0" stroke-linejoin="round"/><path d="M236.30 784.30L246.30 784.30L241.30 774.70Z" fill="#0000ff" stroke="none" stroke-width="0" stroke-linejoin="round"/><path d="M261.35 753.90L271.35 753.90L266.35 744.30Z" fill="#0000ff" stroke="none" stroke-width="0" stroke-linejoin="round"/><path d="M286.40 769.20L296.40 769.20L291.40 759.60Z" fill="#0000ff" stroke="none" stroke-width="0" stroke-linejoin="round"/><path d="M311.45 830.30L321.45 830.30L316.45 820.70Z" fill="#0000ff" stroke="none" stroke-width="0" stroke-linejoin="round"/><path d="M336.50 822.30L346.50 822.30L341.50 812.70Z" fill="#0000ff" stroke="none" stroke-width="0" stroke-linejoin="round"/><path d="M361.55 858.60L371.55 858.60L366.55 849.00Z" fill="#0000ff" stroke="none" stroke-width="0" stroke-linejoin="round"/><path d="M386.60 828.30L396.60 828.30L391.60 818.70Z" fill="#0000ff" stroke="none" stroke-width="0" stroke-linejoin="round"/><path d="M411.65 832.30L421.65 832.30L416.65 822.70Z" fill="#0000ff" stroke="none" stroke-width="0" stroke-linejoin="round"/><path d="M436.70 851.20L446.70 851.20L441.70 841.60Z" fill="#0000ff" stroke="none" stroke-width="0" stroke-linejoin="round"/><path d="M461.75 830.60L471.75 830.60L466.75 821.00Z" fill="#0000ff" stroke="none" stroke-width="0" stroke-linejoin="round"/><path d="M486.80 867.70L496.80 867.70L491.80 858.10Z" fill="#0000ff" stroke="none" stroke-width="0" stroke-linejoin="round"/><path d="M511.85 827.20L521.85 827.20L516.85 817.60Z" fill="#0000ff" stroke="none" stroke-width="0" stroke-linejoin="round"/><path d="M536.90 854.60L546.90 854.60L541.90 845.00Z" fill="#0000ff" stroke="none" stroke-width="0" stroke-linejoin="round"/><path d="M561.95 794.00L571.95 794.00L566.95 784.40Z" fill="#0000ff" stroke="none" stroke-width="0" stroke-linejoin="round"/><path d="M587.00 817.30L597.00 817.30L592.00 807.70Z" fill="#0000ff" stroke="none" stroke-width="0" stroke-linejoin="round"/><path d="M612.05 847.80L622.05 847.80L617.05 838.20Z" fill="#0000ff" stroke="none" stroke-width="0" stroke-linejoin="round"/><path d="M637.10 896.70L647.10 896.70L642.10 887.10Z" fill="#0000ff" stroke="none" stroke-width="0" stroke-linejoin="round"/><path d="M662.15 800.10L672.15 800.10L667.15 790.50Z" fill="#0000ff" stroke="none" stroke-width="0" stroke-linejoin="round"/><path d="M687.20 874.60L697.20 874.60L692.20 865.00Z" fill="#0000ff" stroke="none" stroke-width="0" stroke-linejoin="round"/><path d="M712.25 815.40L722.25 815.40L717.25 805.80Z" fill="#0000ff" stroke="none" stroke-width="0" stroke-linejoin="round"/><path d="M116.05 536.00L141.10 677.80L166.15 666.40L191.20 732.00L216.25 770.20L241.30 774.00L266.35 751.60L291.40 763.70L316.45 822.60L341.50 833.30L366.55 825.70L391.60 856.00L416.65 853.00L441.70 859.00L466.75 840.00L491.80 859.00L516.85 846.90L541.90 859.00L566.95 812.10L592.00 803.90L617.05 843.00L642.10 854.50L667.15 846.90L692.20 810.60L717.25 774.40" fill="none" stroke="#ff0000" stroke-width="3" stroke-linejoin="miter"/><path d="M116.05 525.79L116.05 546.84M113.55 525.79L118.55 525.79M113.55 546.84L118.55 546.84M141.10 656.38L141.10 702.21M138.60 656.38L143.60 656.38M138.60 702.21L143.60 702.21M166.15 652.91L166.15 681.02M163.65 652.91L168.65 652.91M163.65 681.02L168.65 681.02M191.20 726.16L191.20 738.04M188.70 726.16L193.70 726.16M188.70 738.04L193.70 738.04M216.25 763.55L216.25 777.11M213.75 763.55L218.75 763.55M213.75 777.11L218.75 777.11M241.30 766.44L241.30 781.90M238.80 766.44L243.80 766.44M238.80 781.90L243.80 781.90M266.35 743.03L266.35 760.61M263.85 743.03L268.85 743.03M263.85 760.61L268.85 760.61M291.40 754.05L291.40 773.92M288.90 754.05L293.90 754.05M288.90 773.92L293.90 773.92M316.45 811.79L316.45 834.13M313.95 811.79L318.95 811.79M313.95 834.13L318.95 834.13M341.50 821.26L341.50 846.23M339.00 821.26L344.00 821.26M339.00 846.23L344.00 846.23M366.55 812.37L366.55 840.12M364.05 812.37L369.05 812.37M364.05 840.12L369.05 840.12M391.60 841.33L391.60 872.01M389.10 841.33L394.10 841.33M389.10 872.01L394.10 872.01M416.65 836.93L416.65 870.69M414.15 836.93L419.15 836.93M414.15 870.69L419.15 870.69M441.70 841.49L441.70 878.45M439.20 841.49L444.20 841.49M439.20 878.45L444.20 878.45M466.75 821.01L466.75 861.31M464.25 821.01L469.25 821.01M464.25 861.31L469.25 861.31M491.80 838.48L491.80 882.25M489.30 838.48L494.30 838.48M489.30 882.25L494.30 882.25M516.85 824.81L516.85 872.18M514.35 824.81L519.35 824.81M514.35 872.18L519.35 872.18M541.90 835.31L541.90 886.40M539.40 835.31L544.40 835.31M539.40 886.40L544.40 886.40M566.95 786.78L566.95 841.71M564.45 786.78L569.45 786.78M564.45 841.71L569.45 841.71M592.00 776.92L592.00 835.81M589.50 776.92L594.50 776.92M589.50 835.81L594.50 835.81M617.05 814.33L617.05 877.30M614.55 814.33L619.55 814.33M614.55 877.30L619.55 877.30M642.10 824.11L642.10 891.29M639.60 824.11L644.60 824.11M639.60 891.29L644.60 891.29M667.15 814.77L667.15 886.28M664.65 814.77L669.65 814.77M664.65 886.28L669.65 886.28M692.20 776.70L692.20 852.66M689.70 776.70L694.70 776.70M689.70 852.66L694.70 852.66M717.25 738.72L717.25 819.25M714.75 738.72L719.75 738.72M714.75 819.25L719.75 819.25" fill="none" stroke="#ff0000" stroke-width="3"/><path d="M116.05 541.69L141.10 665.00L166.15 702.00L191.20 727.00L216.25 770.00L241.30 772.00L266.35 742.70L291.40 772.00L316.45 817.00L341.50 816.00L366.55 812.70L391.60 801.40L416.65 823.60L441.70 817.40L466.75 876.50L491.80 859.30L516.85 884.80L541.90 869.00L566.95 766.60L592.00 779.80L617.05 915.70L642.10 888.70L667.15 883.30L692.20 835.00L717.25 757.00" fill="none" stroke="#ff0066" stroke-width="2.2" stroke-dasharray="4.3 3.9" stroke-linejoin="miter"/><path d="M116.05 531.48L116.05 552.54M113.55 531.48L118.55 531.48M113.55 552.54L118.55 552.54M141.10 645.14L141.10 687.41M138.60 645.14L143.60 645.14M138.60 687.41L143.60 687.41M166.15 695.13L166.15 709.16M163.65 695.13L168.65 695.13M163.65 709.16L168.65 709.16M191.20 717.62L191.20 736.92M188.70 717.62L193.70 717.62M188.70 736.92L193.70 736.92M216.25 762.89L216.25 777.41M213.75 762.89L218.75 762.89M213.75 777.41L218.75 777.41M241.30 763.80L241.30 780.60M238.80 763.80L243.80 763.80M238.80 780.60L243.80 780.60M266.35 733.30L266.35 752.63M263.85 733.30L268.85 733.30M263.85 752.63L268.85 752.63M291.40 761.31L291.40 783.39M288.90 761.31L293.90 761.31M288.90 783.39L293.90 783.39M316.45 804.93L316.45 829.96M313.95 804.93L318.95 804.93M313.95 829.96L318.95 829.96M341.50 802.47L341.50 830.66M339.00 802.47L344.00 802.47M339.00 830.66L344.00 830.66M366.55 797.64L366.55 829.17M364.05 797.64L369.05 797.64M364.05 829.17L369.05 829.17M391.60 784.75L391.60 819.80M389.10 784.75L394.10 784.75M389.10 819.80L394.10 819.80M416.65 805.30L416.65 844.04M414.15 805.30L419.15 805.30M414.15 844.04L419.15 844.04M441.70 797.39L441.70 839.99M439.20 797.39L444.20 797.39M439.20 839.99L444.20 839.99M466.75 854.74L466.75 901.35M464.25 854.74L469.25 854.74M464.25 901.35L469.25 901.35M491.80 835.74L491.80 886.53M489.30 835.74L494.30 835.74M489.30 886.53L494.30 886.53M516.85 859.40L516.85 914.52M514.35 859.40L519.35 859.40M514.35 914.52L519.35 914.52M541.90 841.72L541.90 901.32M539.40 841.72L544.40 841.72M539.40 901.32L544.40 901.32M566.95 737.40L566.95 801.65M564.45 737.40L569.45 737.40M564.45 801.65L569.45 801.65M592.00 748.66L592.00 817.70M589.50 748.66L594.50 748.66M589.50 817.70L594.50 817.70M617.05 880.85L617.05 959.25M614.55 880.85L619.55 880.85M614.55 959.25L619.55 959.25M642.10 853.57L642.10 932.68M639.60 853.57L644.60 853.57M639.60 932.68L644.60 932.68M667.15 846.14L667.15 930.51M664.65 846.14L669.65 846.14M664.65 930.51L669.65 930.51M692.20 795.79L692.20 885.58M689.70 795.79L694.70 795.79M689.70 885.58L694.70 885.58M717.25 715.72L717.25 811.10M714.75 715.72L719.75 715.72M714.75 811.10L719.75 811.10" fill="none" stroke="#ff0066" stroke-width="2.2" stroke-dasharray="4.3 3.9"/><path d="M116.05 646.00L141.10 629.78L166.15 664.50L191.20 726.00L216.25 768.00L241.30 772.00L266.35 743.00L291.40 768.00L316.45 822.00L341.50 847.30L366.55 826.80L391.60 836.50L416.65 836.50L441.70 826.90L466.75 856.00L491.80 884.10L516.85 838.30L541.90 857.00L566.95 813.00L592.00 794.00L617.05 829.00L642.10 858.30L667.15 845.00L692.20 835.40L717.25 759.00" fill="none" stroke="#ff00cc" stroke-width="2" stroke-dasharray="1.9 2.27" stroke-linejoin="miter"/><path d="M116.05 604.10L116.05 701.16M113.55 604.10L118.55 604.10M113.55 701.16L118.55 701.16M141.10 613.07L141.10 648.25M138.60 613.07L143.60 613.07M138.60 648.25L143.60 648.25M166.15 659.23L166.15 669.94M163.65 659.23L168.65 659.23M163.65 669.94L168.65 669.94M191.20 719.94L191.20 732.28M188.70 719.94L193.70 719.94M188.70 732.28L193.70 732.28M216.25 761.01L216.25 775.28M213.75 761.01L218.75 761.01M213.75 775.28L218.75 775.28M241.30 763.96L241.30 780.42M238.80 763.96L243.80 763.96M238.80 780.42L243.80 780.42M266.35 733.81L266.35 752.70M263.85 733.81L268.85 733.81M263.85 752.70L268.85 752.70M291.40 757.57L291.40 779.09M288.90 757.57L293.90 757.57M288.90 779.09L293.90 779.09M316.45 810.24L316.45 834.60M313.95 810.24L318.95 810.24M313.95 834.60L318.95 834.60M341.50 834.15L341.50 861.52M339.00 834.15L344.00 834.15M339.00 861.52L344.00 861.52M366.55 812.18L366.55 842.75M364.05 812.18L369.05 812.18M364.05 842.75L369.05 842.75M391.60 820.35L391.60 854.29M389.10 820.35L394.10 820.35M389.10 854.29L394.10 854.29M416.65 818.76L416.65 856.24M414.15 818.76L419.15 818.76M414.15 856.24L419.15 856.24M441.70 807.52L441.70 848.69M439.20 807.52L444.20 807.52M439.20 848.69L444.20 848.69M466.75 834.93L466.75 879.95M464.25 834.93L469.25 834.93M464.25 879.95L469.25 879.95M491.80 861.30L491.80 910.31M489.30 861.30L494.30 861.30M489.30 910.31L494.30 910.31M516.85 813.73L516.85 866.89M514.35 813.73L519.35 813.73M514.35 866.89L519.35 866.89M541.90 830.62L541.90 888.07M539.40 830.62L544.40 830.62M539.40 888.07L544.40 888.07M566.95 784.77L566.95 846.66M564.45 784.77L569.45 784.77M564.45 846.66L569.45 846.66M592.00 763.90L592.00 830.37M589.50 763.90L594.50 763.90M589.50 830.37L594.50 830.37M617.05 796.99L617.05 868.19M614.55 796.99L619.55 796.99M614.55 868.19L619.55 868.19M642.10 824.36L642.10 900.44M639.60 824.36L644.60 824.36M639.60 900.44L644.60 900.44M667.15 809.10L667.15 890.20M664.65 809.10L669.65 809.10M664.65 890.20L669.65 890.20M692.20 797.52L692.20 883.80M689.70 797.52L694.70 797.52M689.70 883.80L694.70 883.80M717.25 719.11L717.25 810.72M714.75 719.11L719.75 719.11M714.75 810.72L719.75 810.72" fill="none" stroke="#ff00cc" stroke-width="2" stroke-dasharray="1.9 2.27"/><path d="M116.05 593.71L141.10 654.90L166.15 685.90L191.20 779.70L216.25 787.80L241.30 810.00L266.35 759.30L291.40 773.90L316.45 812.00L341.50 806.20L366.55 806.20L391.60 792.20L416.65 808.50L441.70 817.10L466.75 832.70L491.80 839.50L516.85 824.70L541.90 815.50L566.95 788.70L592.00 787.70L617.05 814.40L642.10 917.90L667.15 833.50L692.20 780.10L717.25 770.50" fill="none" stroke="#00cc00" stroke-width="1.5" stroke-dasharray="4.3 4.0" stroke-linejoin="miter"/><path d="M116.05 590.24L116.05 597.25M113.55 590.24L118.55 590.24M113.55 597.25L118.55 597.25M141.10 651.16L141.10 658.72M138.60 651.16L143.60 651.16M138.60 658.72L143.60 658.72M166.15 681.68L166.15 690.23M163.65 681.68L168.65 681.68M163.65 690.23L168.65 690.23M191.20 769.49L191.20 790.55M188.70 769.49L193.70 769.49M188.70 790.55L193.70 790.55M216.25 782.21L216.25 793.57M213.75 782.21L218.75 782.21M213.75 793.57L218.75 793.57M241.30 801.45L241.30 818.99M238.80 801.45L243.80 801.45M238.80 818.99L243.80 818.99M266.35 751.96L266.35 766.96M263.85 751.96L268.85 751.96M263.85 766.96L268.85 766.96M291.40 765.57L291.40 782.65M288.90 765.57L293.90 765.57M288.90 782.65L293.90 782.65M316.45 802.61L316.45 821.93M313.95 802.61L318.95 802.61M313.95 821.93L318.95 821.93M341.50 795.68L341.50 817.39M339.00 795.68L344.00 795.68M339.00 817.39L344.00 817.39M366.55 794.50L366.55 818.73M364.05 794.50L369.05 794.50M364.05 818.73L369.05 818.73M391.60 779.27L391.60 806.16M389.10 779.27L394.10 779.27M389.10 806.16L394.10 806.16M416.65 794.30L416.65 823.96M414.15 794.30L419.15 794.30M414.15 823.96L419.15 823.96M441.70 801.57L441.70 834.14M439.20 801.57L444.20 801.57M439.20 834.14L444.20 834.14M466.75 815.81L466.75 851.40M464.25 815.81L469.25 815.81M464.25 851.40L469.25 851.40M491.80 821.20L491.80 859.93M489.30 821.20L494.30 821.20M489.30 859.93L494.30 859.93M516.85 804.97L516.85 846.94M514.35 804.97L519.35 804.97M514.35 846.94L519.35 846.94M541.90 794.29L541.90 839.63M539.40 794.29L544.40 794.29M539.40 839.63L544.40 839.63M566.95 765.99L566.95 814.80M564.45 765.99L569.45 765.99M564.45 814.80L569.45 814.80M592.00 763.46L592.00 815.84M589.50 763.46L594.50 763.46M589.50 815.84L594.50 815.84M617.05 788.60L617.05 844.67M614.55 788.60L619.55 788.60M614.55 844.67L619.55 844.67M642.10 887.41L642.10 954.84M639.60 887.41L644.60 887.41M639.60 954.84L644.60 954.84M667.15 804.50L667.15 868.26M664.65 804.50L669.65 804.50M664.65 868.26L669.65 868.26M692.20 749.47L692.20 817.23M689.70 749.47L694.70 749.47M689.70 817.23L694.70 817.23M717.25 738.22L717.25 810.09M714.75 738.22L719.75 738.22M714.75 810.09L719.75 810.09" fill="none" stroke="#00cc00" stroke-width="1.5" stroke-dasharray="4.3 4.0"/><path d="M111.65 598.16L120.45 598.16L116.05 589.76Z" fill="none" stroke="#00cc00" stroke-width="1.3" stroke-linejoin="round"/><path d="M136.70 659.35L145.50 659.35L141.10 650.95Z" fill="none" stroke="#00cc00" stroke-width="1.3" stroke-linejoin="round"/><path d="M161.75 690.35L170.55 690.35L166.15 681.95Z" fill="none" stroke="#00cc00" stroke-width="1.3" stroke-linejoin="round"/><path d="M186.80 784.15L195.60 784.15L191.20 775.75Z" fill="none" stroke="#00cc00" stroke-width="1.3" stroke-linejoin="round"/><path d="M211.85 792.25L220.65 792.25L216.25 783.85Z" fill="none" stroke="#00cc00" stroke-width="1.3" stroke-linejoin="round"/><path d="M236.90 814.45L245.70 814.45L241.30 806.05Z" fill="none" stroke="#00cc00" stroke-width="1.3" stroke-linejoin="round"/><path d="M261.95 763.75L270.75 763.75L266.35 755.35Z" fill="none" stroke="#00cc00" stroke-width="1.3" stroke-linejoin="round"/><path d="M287.00 778.35L295.80 778.35L291.40 769.95Z" fill="none" stroke="#00cc00" stroke-width="1.3" stroke-linejoin="round"/><path d="M312.05 816.45L320.85 816.45L316.45 808.05Z" fill="none" stroke="#00cc00" stroke-width="1.3" stroke-linejoin="round"/><path d="M337.10 810.65L345.90 810.65L341.50 802.25Z" fill="none" stroke="#00cc00" stroke-width="1.3" stroke-linejoin="round"/><path d="M362.15 810.65L370.95 810.65L366.55 802.25Z" fill="none" stroke="#00cc00" stroke-width="1.3" stroke-linejoin="round"/><path d="M387.20 796.65L396.00 796.65L391.60 788.25Z" fill="none" stroke="#00cc00" stroke-width="1.3" stroke-linejoin="round"/><path d="M412.25 812.95L421.05 812.95L416.65 804.55Z" fill="none" stroke="#00cc00" stroke-width="1.3" stroke-linejoin="round"/><path d="M437.30 821.55L446.10 821.55L441.70 813.15Z" fill="none" stroke="#00cc00" stroke-width="1.3" stroke-linejoin="round"/><path d="M462.35 837.15L471.15 837.15L466.75 828.75Z" fill="none" stroke="#00cc00" stroke-width="1.3" stroke-linejoin="round"/><path d="M487.40 843.95L496.20 843.95L491.80 835.55Z" fill="none" stroke="#00cc00" stroke-width="1.3" stroke-linejoin="round"/><path d="M512.45 829.15L521.25 829.15L516.85 820.75Z" fill="none" stroke="#00cc00" stroke-width="1.3" stroke-linejoin="round"/><path d="M537.50 819.95L546.30 819.95L541.90 811.55Z" fill="none" stroke="#00cc00" stroke-width="1.3" stroke-linejoin="round"/><path d="M562.55 793.15L571.35 793.15L566.95 784.75Z" fill="none" stroke="#00cc00" stroke-width="1.3" stroke-linejoin="round"/><path d="M587.60 792.15L596.40 792.15L592.00 783.75Z" fill="none" stroke="#00cc00" stroke-width="1.3" stroke-linejoin="round"/><path d="M612.65 818.85L621.45 818.85L617.05 810.45Z" fill="none" stroke="#00cc00" stroke-width="1.3" stroke-linejoin="round"/><path d="M637.70 922.35L646.50 922.35L642.10 913.95Z" fill="none" stroke="#00cc00" stroke-width="1.3" stroke-linejoin="round"/><path d="M662.75 837.95L671.55 837.95L667.15 829.55Z" fill="none" stroke="#00cc00" stroke-width="1.3" stroke-linejoin="round"/><path d="M687.80 784.55L696.60 784.55L692.20 776.15Z" fill="none" stroke="#00cc00" stroke-width="1.3" stroke-linejoin="round"/><path d="M712.85 774.95L721.65 774.95L717.25 766.55Z" fill="none" stroke="#00cc00" stroke-width="1.3" stroke-linejoin="round"/></g>
<rect x="91.00" y="34.80" width="651.10" height="921.10" fill="none" stroke="#000" stroke-width="1.85"/>
<line x1="91.00" y1="635.05" x2="742.10" y2="635.05" stroke="#000" stroke-width="1.85" />
<path transform="translate(54.121,96.000) scale(0.01099,-0.01165)" d="M800 0L800 1430L672 1430C652 1325 564 1222 260 1208L260 1060L612 1060L612 0Z" fill="#000"/>
<text transform="translate(72.991,96.900) scale(0.9500,1.0600)" font-size="22.5" text-anchor="middle" fill="#000">0</text>
<path transform="translate(70.011,202.900) scale(0.01099,-0.01165)" d="M800 0L800 1430L672 1430C652 1325 564 1222 260 1208L260 1060L612 1060L612 0Z" fill="#000"/>
<path transform="translate(40.244,310.800) scale(0.01099,-0.01165)" d="M800 0L800 1430L672 1430C652 1325 564 1222 260 1208L260 1060L612 1060L612 0Z" fill="#000"/>
<text transform="translate(59.114,311.700) scale(0.9500,1.0600)" font-size="22.5" text-anchor="middle" fill="#000">0</text>
<rect x="65.30" y="297.40" width="7.4" height="1.4" fill="#000"/>
<path transform="translate(73.832,301.800) scale(0.00757,-0.00795)" d="M800 0L800 1430L672 1430C652 1325 564 1222 260 1208L260 1060L612 1060L612 0Z" fill="#000"/>
<path transform="translate(37.044,416.800) scale(0.01099,-0.01165)" d="M800 0L800 1430L672 1430C652 1325 564 1222 260 1208L260 1060L612 1060L612 0Z" fill="#000"/>
<text transform="translate(55.914,417.700) scale(0.9500,1.0600)" font-size="22.5" text-anchor="middle" fill="#000">0</text>
<rect x="62.40" y="403.40" width="7.4" height="1.4" fill="#000"/>
<text transform="translate(74.789,407.800) scale(0.9600,1.0500)" font-size="15.5" text-anchor="middle" fill="#000">2</text>
<path transform="translate(37.044,523.600) scale(0.01099,-0.01165)" d="M800 0L800 1430L672 1430C652 1325 564 1222 260 1208L260 1060L612 1060L612 0Z" fill="#000"/>
<text transform="translate(55.914,524.500) scale(0.9500,1.0600)" font-size="22.5" text-anchor="middle" fill="#000">0</text>
<rect x="62.40" y="510.20" width="7.4" height="1.4" fill="#000"/>
<text transform="translate(74.971,514.600) scale(0.9600,1.0500)" font-size="15.5" text-anchor="middle" fill="#000">3</text>
<path transform="translate(37.044,629.800) scale(0.01099,-0.01165)" d="M800 0L800 1430L672 1430C652 1325 564 1222 260 1208L260 1060L612 1060L612 0Z" fill="#000"/>
<text transform="translate(55.914,630.700) scale(0.9500,1.0600)" font-size="22.5" text-anchor="middle" fill="#000">0</text>
<rect x="62.40" y="616.40" width="7.4" height="1.4" fill="#000"/>
<text transform="translate(75.196,620.800) scale(0.9600,1.0500)" font-size="15.5" text-anchor="middle" fill="#000">4</text>
<text transform="translate(70.775,682.900) scale(1.0000,1.0700)" font-size="22.5" text-anchor="middle" fill="#000">2</text>
<path transform="translate(65.111,804.800) scale(0.01099,-0.01176)" d="M800 0L800 1430L672 1430C652 1325 564 1222 260 1208L260 1060L612 1060L612 0Z" fill="#000"/>
<text transform="translate(51.723,926.000) scale(1.0000,1.0700)" font-size="22.5" text-anchor="middle" fill="#000">0</text>
<text transform="translate(61.106,925.100) scale(1.0000,1.0700)" font-size="22.5" text-anchor="middle" fill="#000">.</text>
<text transform="translate(70.488,925.100) scale(1.0000,1.0700)" font-size="22.5" text-anchor="middle" fill="#000">5</text>
<text transform="translate(753.925,682.900) scale(1.0000,1.0700)" font-size="22.5" text-anchor="middle" fill="#000">2</text>
<path transform="translate(747.144,804.800) scale(0.01099,-0.01176)" d="M800 0L800 1430L672 1430C652 1325 564 1222 260 1208L260 1060L612 1060L612 0Z" fill="#000"/>
<text transform="translate(754.178,926.000) scale(1.0000,1.0700)" font-size="22.5" text-anchor="middle" fill="#000">0</text>
<text transform="translate(763.560,925.100) scale(1.0000,1.0700)" font-size="22.5" text-anchor="middle" fill="#000">.</text>
<text transform="translate(772.942,925.100) scale(1.0000,1.0700)" font-size="22.5" text-anchor="middle" fill="#000">5</text>
<path transform="translate(236.144,978.000) scale(0.01099,-0.01176)" d="M800 0L800 1430L672 1430C652 1325 564 1222 260 1208L260 1060L612 1060L612 0Z" fill="#000"/>
<text transform="translate(491.400,978.000) scale(1.0000,1.0700)" font-size="22.5" text-anchor="middle" fill="#000">2</text>
<text transform="translate(742.366,978.400) scale(1.0000,1.0700)" font-size="22.5" text-anchor="middle" fill="#000">3</text>
<g transform="translate(101.695,28.800) scale(1.0000,1.0600)" fill="#000"><text font-size="24.456"> 3000 GeV pp</text><path transform="translate(0.000,0) scale(0.01194,-0.01194)" d="M800 0L800 1430L672 1430C652 1325 564 1222 260 1208L260 1060L612 1060L612 0Z"/></g>
<g transform="translate(669.942,28.700) scale(1.0000,1.0700)" fill="#000"><text font-size="23.898">Z+Jet</text></g>
<g transform="translate(263.894,85.600) scale(1.0000,1.0350)" fill="#000"><text font-size="24.454">&lt;pT&gt;</text></g>
<g transform="translate(325.557,85.800) scale(1.0000,1.0000)" fill="#000"><text font-size="20.042">(ATLAS UE in Z production)</text></g>
<g transform="translate(325.015,603.600) scale(1.0000,1.0000)" fill="#999"><text font-size="15.886">(ATLAS_20 9_I 73653 )</text><path transform="translate(82.119,0) scale(0.00776,-0.00776)" d="M800 0L800 1430L672 1430C652 1325 564 1222 260 1208L260 1060L612 1060L612 0Z"/><path transform="translate(113.037,0) scale(0.00776,-0.00776)" d="M800 0L800 1430L672 1430C652 1325 564 1222 260 1208L260 1060L612 1060L612 0Z"/><path transform="translate(166.045,0) scale(0.00776,-0.00776)" d="M800 0L800 1430L672 1430C652 1325 564 1222 260 1208L260 1060L612 1060L612 0Z"/></g>
<g transform="translate(760.200,254.549) rotate(-90) scale(1.0000,1.0700)" fill="#777"><text font-size="18.877">Rivet 4. .0, &#8805;  00k events</text><path transform="translate(63.997,0) scale(0.00922,-0.00922)" d="M800 0L800 1430L672 1430C652 1325 564 1222 260 1208L260 1060L612 1060L612 0Z"/><path transform="translate(116.333,0) scale(0.00922,-0.00922)" d="M800 0L800 1430L672 1430C652 1325 564 1222 260 1208L260 1060L612 1060L612 0Z"/></g>
<g transform="translate(761.900,629.462) rotate(-90) scale(1.0000,1.0400)" fill="#777"><text font-size="18.997">mcplots.cern.ch [arXiv: 306.3436]</text><path transform="translate(192.139,0) scale(0.00928,-0.00928)" d="M800 0L800 1430L672 1430C652 1325 564 1222 260 1208L260 1060L612 1060L612 0Z"/></g>
<g transform="translate(36.400,855.469) rotate(-90) scale(1.0000,1.0500)" fill="#000"><text font-size="17.903">Ratio to ATLAS</text></g>
<rect x="147.60" y="416.80" width="11" height="10.8" fill="#000"/>
<g transform="translate(187.863,428.400) scale(1.0000,1.0500)" fill="#000"><text font-size="19.000">ATLAS</text></g>
<path d="M128.8 447.7L177.2 447.7" stroke="#0000ff" stroke-width="1.5"/>
<path d="M148.00 452.80L158.20 452.80L153.10 442.80Z" fill="#0000ff" stroke="none" stroke-width="0" stroke-linejoin="round"/>
<g transform="translate(186.941,454.200) scale(1.0000,1.0500)" fill="#000"><text font-size="19.000">Pythia 8.235 default</text></g>
<path d="M128.8 474.0L177.2 474.0" stroke="#ff0000" stroke-width="2.3"/>
<g transform="translate(186.941,479.900) scale(1.0000,1.0500)" fill="#000"><text font-size="19.000">Pythia 8.235 tune-A 4-CTEQL </text><path transform="translate(166.890,0) scale(0.00928,-0.00928)" d="M800 0L800 1430L672 1430C652 1325 564 1222 260 1208L260 1060L612 1060L612 0Z"/><path transform="translate(257.697,0) scale(0.00928,-0.00928)" d="M800 0L800 1430L672 1430C652 1325 564 1222 260 1208L260 1060L612 1060L612 0Z"/></g>
<path d="M128.8 500.0L177.2 500.0" stroke="#ff0066" stroke-width="2.0" stroke-dasharray="4.3 3.9"/>
<g transform="translate(186.941,505.900) scale(1.0000,1.0500)" fill="#000"><text font-size="19.000">Pythia 8.235 tune-A 4-MSTW2008LO</text><path transform="translate(166.890,0) scale(0.00928,-0.00928)" d="M800 0L800 1430L672 1430C652 1325 564 1222 260 1208L260 1060L612 1060L612 0Z"/></g>
<path d="M128.8 526.1L177.2 526.1" stroke="#ff00cc" stroke-width="2" stroke-dasharray="1.9 2.27"/>
<g transform="translate(186.941,532.000) scale(1.0000,1.0500)" fill="#000"><text font-size="19.000">Pythia 8.235 tune-A 4-NNPDF2.3LO</text><path transform="translate(166.890,0) scale(0.00928,-0.00928)" d="M800 0L800 1430L672 1430C652 1325 564 1222 260 1208L260 1060L612 1060L612 0Z"/></g>
<path d="M128.8 552.0L177.2 552.0" stroke="#00cc00" stroke-width="1.5" stroke-dasharray="4.3 4.0"/>
<path d="M148.65 556.15L157.45 556.15L153.05 547.75Z" fill="#fff" stroke="#00cc00" stroke-width="1.3" stroke-linejoin="round"/>
<g transform="translate(186.941,558.600) scale(1.0000,1.0500)" fill="#000"><text font-size="19.000">Pythia 8.235 tune-CUETP8S </text><path transform="translate(241.851,0) scale(0.00928,-0.00928)" d="M800 0L800 1430L672 1430C652 1325 564 1222 260 1208L260 1060L612 1060L612 0Z"/></g>
</svg></body></html>
